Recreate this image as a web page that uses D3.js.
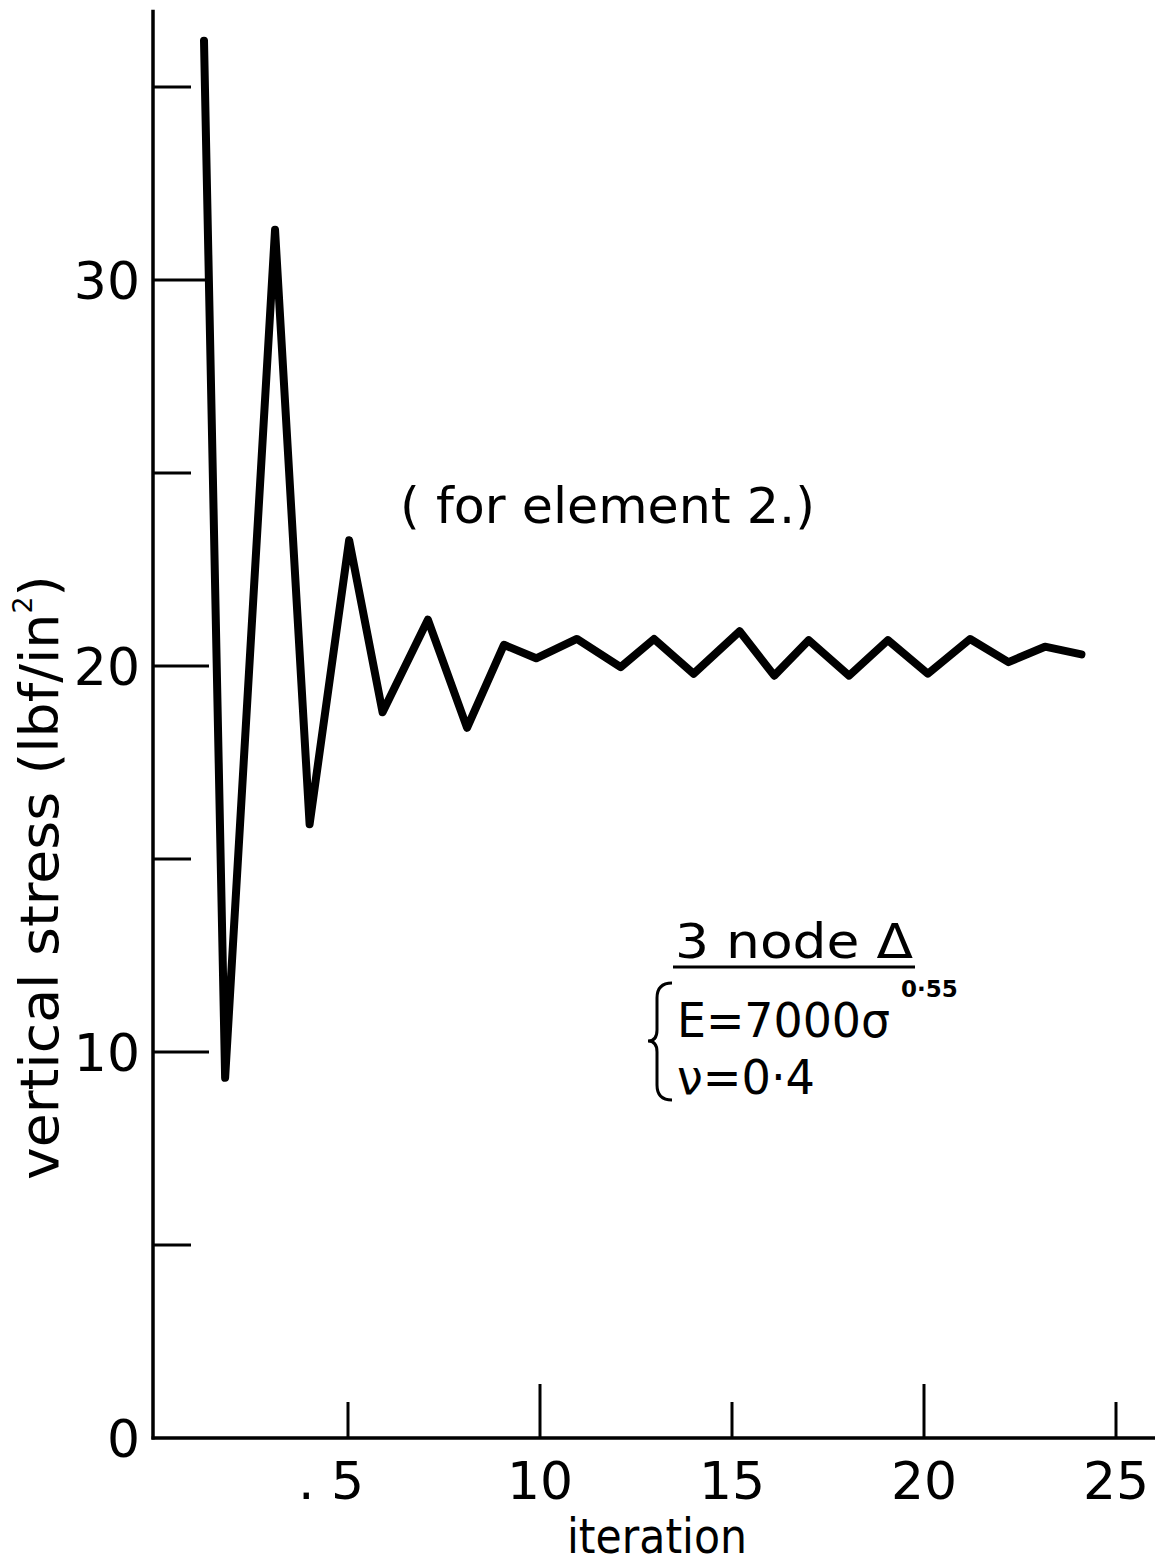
<!DOCTYPE html>
<html>
<head>
<meta charset="utf-8">
<script src="https://cdn.jsdelivr.net/npm/d3@7"></script>
<style>
  html, body { margin: 0; padding: 0; background: #fff; }
  svg { display: block; }
  text { font-family: "DejaVu Sans", Lato, sans-serif; fill: #000; }
</style>
</head>
<body>
<script>
// ---- data ----
const iterations = [1.25, 1.8, 3.1, 4.0, 5.03, 5.9, 7.08, 8.1, 9.06, 9.9, 10.96, 12.1,
                    12.97, 14.0, 15.2, 16.1, 17.0, 18.05, 19.06, 20.1, 21.2, 22.2, 23.15, 24.1];
const stress = [36.2, 9.33, 31.3, 15.9, 23.26, 18.8, 21.2, 18.4, 20.55, 20.2, 20.7, 19.97,
                20.7, 19.8, 20.9, 19.75, 20.67, 19.75, 20.67, 19.8, 20.7, 20.1, 20.5, 20.3];
const xTickValues = [5, 10, 15, 20, 25];
const xTickLabels = [". 5", "10", "15", "20", "25"];
const yTickValues = [5, 10, 15, 20, 25, 30, 35];
const yLabelValues = [0, 10, 20, 30];
const yLabelTexts = ["0", "10", "20", "30"];
const xMajor = [10, 20];
const yMajor = [10, 20, 30];

const W = 1168, H = 1567;
const svg = d3.select("body").append("svg").attr("width", W).attr("height", H);

const x = d3.scaleLinear().domain([0, 25]).range([156, 1116]);
const y = d3.scaleLinear().domain([0, 30]).range([1438, 280]);
const x0 = 153, yBase = 1438;

// axes lines
svg.append("line").attr("x1", x0).attr("x2", x0).attr("y1", y(37)).attr("y2", yBase + 1.5)
  .attr("stroke", "#000").attr("stroke-width", 3.5);
svg.append("line").attr("x1", x0 - 1.5).attr("x2", 1155).attr("y1", yBase).attr("y2", yBase)
  .attr("stroke", "#000").attr("stroke-width", 3.5);

// y ticks (inward)
svg.selectAll(".yt").data(yTickValues).enter().append("line")
  .attr("x1", x0).attr("x2", d => x0 + (yMajor.includes(d) ? 56 : 38))
  .attr("y1", d => y(d)).attr("y2", d => y(d))
  .attr("stroke", "#000").attr("stroke-width", 3);

// x ticks (inward)
svg.selectAll(".xt").data(xTickValues).enter().append("line")
  .attr("x1", d => x(d)).attr("x2", d => x(d))
  .attr("y1", yBase).attr("y2", d => yBase - (xMajor.includes(d) ? 54 : 36))
  .attr("stroke", "#000").attr("stroke-width", 3);

// y labels
svg.selectAll(".yl").data(yLabelValues).enter().append("text")
  .attr("x", 140).attr("y", d => y(d) + 19)
  .attr("text-anchor", "end").attr("font-size", 52)
  .text((d, i) => yLabelTexts[i]);

// x labels
svg.selectAll(".xl").data(xTickValues).enter().append("text")
  .attr("x", (d, i) => x(d) - (xTickLabels[i].startsWith(".") ? 17 : 0)).attr("y", 1499)
  .attr("text-anchor", "middle").attr("font-size", 52)
  .text((d, i) => xTickLabels[i]);

// axis titles
svg.append("text").attr("x", 567).attr("y", 1553)
  .attr("font-size", 48).attr("textLength", 180).attr("lengthAdjust", "spacingAndGlyphs")
  .text("iteration");

const yt = svg.append("text").attr("transform", "translate(58,1180) rotate(-90)")
  .attr("x", 0).attr("y", 0)
  .attr("font-size", 54).attr("textLength", 605).attr("lengthAdjust", "spacingAndGlyphs");
yt.append("tspan").text("vertical  stress   (lbf/in");
yt.append("tspan").attr("font-size", 26).attr("dy", -26).text("2");
yt.append("tspan").attr("dy", 26).text(")");

// data line
const line = d3.line().x(d => x(d[0])).y(d => y(d[1]));
svg.append("path").datum(iterations.map((v, i) => [v, stress[i]]))
  .attr("d", line).attr("fill", "none").attr("stroke", "#000")
  .attr("stroke-width", 8).attr("stroke-linejoin", "round").attr("stroke-linecap", "round");

// annotations
svg.append("text").attr("x", 400).attr("y", 523)
  .attr("font-size", 50).attr("textLength", 415).attr("lengthAdjust", "spacingAndGlyphs")
  .text("( for element  2.)");

svg.append("text").attr("x", 675).attr("y", 958)
  .attr("font-size", 48).attr("textLength", 238).attr("lengthAdjust", "spacingAndGlyphs")
  .text("3 node  Δ");
svg.append("line").attr("x1", 673).attr("x2", 915).attr("y1", 967).attr("y2", 967)
  .attr("stroke", "#000").attr("stroke-width", 3);

const brace = d3.path();
brace.moveTo(672, 983);
brace.quadraticCurveTo(657, 983, 657, 998);
brace.lineTo(657, 1030);
brace.quadraticCurveTo(657, 1041, 648, 1041);
brace.quadraticCurveTo(657, 1041, 657, 1052);
brace.lineTo(657, 1085);
brace.quadraticCurveTo(657, 1100, 672, 1100);
svg.append("path").attr("d", brace.toString()).attr("fill", "none")
  .attr("stroke", "#000").attr("stroke-width", 3);

svg.append("text").attr("x", 677).attr("y", 1037).attr("font-size", 48)
  .attr("textLength", 213).attr("lengthAdjust", "spacingAndGlyphs").text("E=7000σ");
svg.append("text").attr("x", 901).attr("y", 997).attr("font-size", 23)
  .attr("font-weight", "bold").text("0·55");
svg.append("text").attr("x", 677).attr("y", 1094).attr("font-size", 48)
  .attr("textLength", 138).attr("lengthAdjust", "spacingAndGlyphs").text("ν=0·4");
</script>
</body>
</html>
